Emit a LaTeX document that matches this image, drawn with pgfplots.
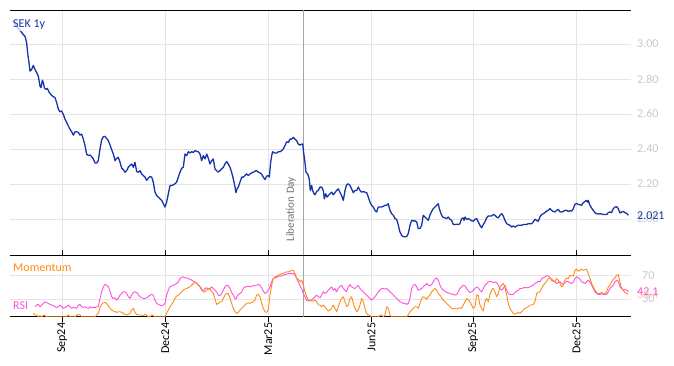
\documentclass[border=0pt]{standalone}
\usepackage{fontspec}
\setmainfont{Carlito}
\usepackage{pgfplots}
\pgfplotsset{compat=1.18}
\definecolor{sekblue}{RGB}{22,52,168}
\definecolor{momorange}{RGB}{255,140,20}
\definecolor{rsimag}{RGB}{255,80,220}
\definecolor{tickgrey}{RGB}{200,200,200}
\definecolor{gridgrey}{RGB}{228,228,228}
\definecolor{libgrey}{RGB}{165,165,165}
\definecolor{libtext}{RGB}{110,110,110}
\definecolor{fadeorange}{RGB}{255,205,160}
\newcommand\lbl{\fontsize{12}{14}\selectfont}

\pgfplotsset{
  panel/.style={
    scale only axis, width=620.7pt, xmin=-46.2, xmax=502.2,
    separate axis lines,
    x axis line style={black,line width=0.9pt},
    y axis line style={draw=none},
    xtick={0,91,182,273.3,363.1,454.4},
    grid=major, major grid style={gridgrey,line width=0.6pt},
    ytick style={draw=none}, yticklabel pos=right,
    yticklabel style={font=\lbl, text=tickgrey, anchor=west, inner sep=0pt, xshift=6.3pt},
    x tick style={black,line width=0.9pt}, major tick length=5pt,
    xtick pos=left,
    clip mode=individual,
    /pgf/number format/assume math mode=true,
  }
}

\pgfplotstableread{
day value
-43.8 3.132
-34.4 3.053
-32.9 3.043
-31.5 3.006
-30.6 2.949
-29.4 2.892
-28.5 2.845
-27.1 2.854
-25.6 2.877
-24.1 2.854
-22.6 2.835
-21.2 2.816
-19.7 2.759
-18.8 2.750
-17.6 2.793
-16.7 2.778
-15.9 2.750
-14.4 2.740
-13.2 2.746
-11.4 2.722
-9.4 2.706
-7.9 2.699
-6.4 2.693
-5.0 2.665
-3.5 2.627
-2.0 2.612
-0.6 2.617
0.9 2.598
2.4 2.570
3.9 2.551
5.3 2.532
6.8 2.513
8.3 2.498
9.8 2.479
11.2 2.498
12.7 2.498
14.2 2.494
15.6 2.479
17.1 2.485
18.6 2.456
20.1 2.418
21.5 2.371
23.0 2.362
24.5 2.365
26.0 2.356
27.4 2.343
28.9 2.320
30.4 2.320
31.8 2.333
33.3 2.400
34.8 2.453
36.3 2.470
37.7 2.472
39.2 2.460
40.7 2.447
42.2 2.422
43.6 2.396
45.1 2.371
46.6 2.333
48.0 2.346
49.5 2.352
51.0 2.324
52.5 2.290
53.9 2.282
55.4 2.267
56.9 2.276
58.3 2.295
59.8 2.305
61.3 2.314
62.8 2.295
64.2 2.324
65.7 2.271
67.2 2.267
68.7 2.276
70.1 2.257
71.6 2.248
73.1 2.239
74.5 2.220
76.0 2.233
77.5 2.242
79.0 2.239
80.4 2.210
81.9 2.153
83.4 2.134
84.9 2.125
86.3 2.115
87.8 2.106
89.3 2.087
90.7 2.068
92.2 2.096
93.7 2.144
95.2 2.191
96.6 2.191
98.1 2.195
99.6 2.201
101.0 2.210
102.5 2.239
104.0 2.267
105.5 2.290
106.9 2.295
108.4 2.371
109.9 2.362
111.4 2.384
112.8 2.377
114.3 2.384
115.8 2.380
117.2 2.390
118.7 2.386
120.2 2.384
121.7 2.371
123.1 2.333
124.6 2.362
126.1 2.343
127.6 2.371
129.0 2.347
130.5 2.314
132.0 2.333
133.4 2.343
134.9 2.286
136.4 2.276
137.8 2.267
139.3 2.276
140.8 2.286
142.3 2.295
143.7 2.314
145.2 2.328
146.7 2.314
148.2 2.295
149.6 2.267
151.1 2.229
152.6 2.182
153.5 2.150
154.3 2.172
155.5 2.182
157.0 2.210
158.5 2.239
159.9 2.239
161.4 2.248
162.9 2.257
164.4 2.248
165.8 2.257
167.3 2.263
168.8 2.267
170.2 2.273
171.7 2.276
173.2 2.267
174.7 2.263
176.1 2.257
177.6 2.239
179.1 2.225
180.5 2.244
182.0 2.248
182.9 2.239
184.1 2.324
185.0 2.362
185.8 2.384
187.3 2.377
189.4 2.377
190.9 2.384
192.3 2.384
193.8 2.390
195.3 2.400
196.7 2.418
198.2 2.441
199.7 2.437
201.2 2.456
202.6 2.456
204.1 2.466
205.6 2.456
207.1 2.447
208.5 2.428
210.0 2.422
211.5 2.428
212.4 2.428
213.2 2.381
214.4 2.324
215.3 2.267
216.8 2.257
218.2 2.229
219.1 2.163
220.3 2.191
221.2 2.163
222.4 2.144
223.3 2.138
224.7 2.157
226.2 2.163
227.7 2.182
229.1 2.182
230.6 2.163
231.5 2.115
232.7 2.144
233.9 2.125
235.0 2.134
236.5 2.144
238.0 2.153
239.4 2.138
240.9 2.150
242.4 2.163
243.9 2.172
245.3 2.153
246.8 2.134
248.3 2.106
249.8 2.163
251.2 2.195
252.7 2.201
254.2 2.191
255.6 2.172
257.1 2.150
258.6 2.163
260.1 2.163
261.5 2.182
263.0 2.163
264.5 2.153
266.0 2.157
267.4 2.153
268.9 2.150
270.4 2.125
271.8 2.096
273.3 2.078
274.8 2.068
276.3 2.049
277.7 2.040
279.2 2.068
280.7 2.068
282.1 2.068
283.6 2.072
285.1 2.078
286.6 2.078
288.0 2.087
289.5 2.049
291.0 2.030
292.5 2.021
293.9 2.002
295.4 1.998
296.9 1.964
298.3 1.926
299.8 1.907
301.3 1.898
302.8 1.898
304.2 1.899
305.7 1.917
307.2 1.964
308.7 1.992
310.1 1.989
311.6 1.989
313.1 1.983
314.5 1.945
316.0 1.945
317.5 1.964
318.9 2.021
320.4 2.011
321.9 2.002
323.4 1.992
324.8 2.021
326.3 2.043
327.8 2.059
329.3 2.068
330.7 2.078
332.2 2.087
333.1 2.059
334.6 2.030
336.0 2.011
338.1 2.006
339.6 2.002
341.0 2.011
342.5 1.998
344.0 1.992
345.5 1.968
346.9 1.968
348.4 1.970
349.9 1.968
351.3 1.973
352.8 2.002
354.3 2.006
354.9 1.992
355.8 2.011
357.2 1.998
358.7 2.002
360.2 1.996
361.6 1.990
363.1 1.987
364.6 1.998
366.1 2.002
367.5 1.983
369.0 1.964
370.5 1.949
372.0 1.968
373.4 1.983
374.9 2.006
376.4 2.017
377.8 2.017
379.3 2.017
380.8 2.025
382.3 2.021
383.7 2.011
385.2 2.006
386.7 2.021
388.2 2.030
389.6 2.017
391.1 1.992
392.6 1.973
394.0 1.968
395.5 1.964
397.0 1.954
398.5 1.960
399.9 1.953
401.4 1.960
402.9 1.964
404.4 1.964
405.8 1.964
407.3 1.968
408.8 1.968
410.2 1.968
411.7 1.973
413.2 1.973
414.7 1.973
416.1 1.983
417.6 1.998
419.1 1.992
420.5 1.987
422.0 2.011
423.5 2.025
425.0 2.030
426.4 2.036
427.9 2.045
429.4 2.049
430.9 2.059
432.3 2.049
433.8 2.043
435.3 2.040
436.7 2.049
438.2 2.055
439.7 2.040
441.2 2.040
442.6 2.043
444.1 2.049
445.6 2.049
447.1 2.043
448.5 2.047
450.0 2.045
451.5 2.059
452.9 2.083
454.4 2.089
455.9 2.083
457.4 2.081
458.8 2.078
460.3 2.093
461.8 2.100
463.2 2.106
464.1 2.096
464.7 2.106
466.2 2.078
467.7 2.062
469.1 2.049
470.6 2.036
472.1 2.030
473.6 2.028
475.0 2.030
476.5 2.028
478.0 2.026
479.4 2.026
480.9 2.025
482.4 2.036
483.9 2.040
485.3 2.036
486.8 2.059
488.3 2.068
489.8 2.070
491.2 2.059
492.7 2.034
494.2 2.040
495.6 2.043
497.1 2.036
498.6 2.032
500.1 2.021
}\sektable

\pgfplotstableread{
day value
-24.1 17.0
-22.6 19.9
-21.2 21.0
-19.7 17.0
-18.2 19.9
-16.7 22.7
-15.3 25.5
-13.8 23.8
-12.3 22.7
-10.9 21.0
-9.4 19.9
-7.9 18.7
-6.4 17.0
-5.0 15.9
-3.5 17.0
-2.0 19.9
-0.6 17.0
0.9 14.2
2.4 15.9
3.9 17.0
5.3 19.9
6.8 17.0
8.3 14.2
9.8 15.9
11.2 15.3
12.7 14.2
14.2 19.9
15.6 21.0
17.1 17.0
18.6 15.9
20.1 17.0
21.5 15.3
23.0 14.2
24.5 17.0
26.0 15.3
27.4 15.9
28.9 15.3
30.4 17.0
31.8 17.0
33.3 31.1
34.8 42.4
36.3 50.9
37.7 54.9
39.2 53.7
40.7 50.9
42.2 43.6
43.6 34.0
45.1 31.1
46.6 32.3
48.0 28.3
49.5 31.1
51.0 36.8
52.5 39.6
53.9 42.4
55.4 42.4
56.9 39.6
58.3 34.0
59.8 31.1
61.3 36.8
62.8 41.3
64.2 42.4
65.7 41.3
67.2 37.9
68.7 34.0
70.1 32.3
71.6 31.1
73.1 31.1
74.5 32.3
76.0 34.0
77.5 36.8
79.0 37.9
80.4 36.8
81.9 28.3
83.4 22.7
84.9 21.0
86.3 19.9
87.8 18.7
89.3 19.9
90.7 22.7
92.2 36.8
93.7 45.3
95.2 50.9
96.6 52.6
98.1 53.7
99.6 54.9
101.0 56.6
102.5 59.4
104.0 65.0
105.5 67.3
106.9 67.9
108.4 66.2
109.9 66.2
111.4 65.0
112.8 63.9
114.3 62.2
115.8 60.5
117.2 59.4
118.7 56.6
120.2 53.7
121.7 50.9
123.1 45.3
124.6 43.6
126.1 48.1
127.6 49.2
129.0 47.0
130.5 48.1
132.0 50.9
133.4 48.1
134.9 45.0
136.4 42.4
137.8 36.8
139.3 35.7
140.8 39.6
142.3 45.3
143.7 50.9
145.2 53.7
146.7 52.6
148.2 48.1
149.6 41.3
151.1 36.8
152.6 31.1
153.5 30.0
154.3 34.0
155.5 37.9
157.0 39.6
158.5 42.4
159.9 48.1
161.4 50.9
162.9 50.9
164.4 52.1
165.8 50.9
167.3 52.1
168.8 52.6
170.2 53.7
171.7 53.7
173.2 54.9
174.7 53.7
176.1 49.2
177.6 43.6
179.1 39.6
180.5 41.3
182.0 45.3
183.5 50.9
185.0 59.4
186.4 65.0
187.9 66.7
189.4 66.7
190.9 69.0
192.3 69.0
193.8 69.6
195.3 70.7
196.7 71.8
198.2 72.4
199.7 73.5
201.2 73.5
202.6 73.5
204.1 73.5
205.6 70.7
207.1 65.0
208.5 59.4
210.0 52.6
211.5 48.1
213.0 39.6
214.4 34.0
215.9 28.3
217.4 26.6
218.8 28.3
220.3 28.3
221.8 31.1
223.3 34.0
224.7 36.8
226.2 34.0
227.7 32.3
229.1 36.8
230.6 42.4
232.1 39.6
233.6 41.3
235.0 45.3
236.5 48.1
238.0 50.9
239.4 45.3
240.9 48.1
242.4 42.4
243.9 48.1
245.3 50.9
246.8 53.7
248.3 48.1
249.8 45.3
251.2 42.4
252.7 50.9
254.2 54.9
255.6 50.9
257.1 49.2
258.6 48.1
260.1 50.9
261.5 53.7
263.0 48.1
264.5 45.3
266.0 42.4
267.4 39.6
268.9 36.8
270.4 34.0
271.8 31.1
273.3 28.3
274.8 31.1
276.3 34.0
277.7 37.9
279.2 42.4
280.7 45.3
282.1 48.1
283.6 48.1
285.1 47.0
286.6 48.1
288.0 45.3
289.5 42.4
291.0 39.6
292.5 36.8
293.9 34.0
295.4 31.1
296.9 28.3
298.3 25.5
299.8 24.4
301.3 22.7
302.8 22.7
304.2 21.0
305.7 22.7
307.2 31.1
308.7 48.1
310.1 53.7
311.6 54.9
313.1 50.9
314.5 45.3
317.5 48.1
318.9 50.9
320.4 53.7
321.9 56.6
323.4 53.7
324.8 52.6
326.3 54.9
327.8 59.4
329.3 63.9
330.7 66.2
332.2 62.2
333.7 53.7
335.1 48.1
336.6 45.3
338.1 43.6
339.6 41.3
341.0 40.8
342.5 39.6
344.0 38.5
345.5 37.9
346.9 36.8
348.4 37.9
349.9 42.4
351.3 48.1
352.8 50.9
354.3 53.7
355.8 52.6
357.2 48.1
358.7 43.6
360.2 41.3
361.6 42.4
363.1 45.3
364.6 48.1
366.1 50.9
367.5 49.2
369.0 45.3
370.5 42.4
372.0 48.1
373.4 53.7
374.9 56.6
376.4 59.4
377.8 60.5
379.3 59.4
380.8 58.3
382.3 59.4
383.7 58.3
385.2 53.7
386.7 48.1
388.2 45.3
389.6 48.1
391.1 53.7
392.6 45.3
394.0 39.6
395.5 37.9
397.0 37.9
398.5 37.9
399.9 41.3
401.4 43.6
402.9 45.3
404.4 48.1
405.8 48.1
407.3 49.2
408.8 49.8
410.2 49.2
411.7 49.8
413.2 50.9
414.7 52.6
416.1 53.7
417.6 56.6
419.1 58.3
420.5 60.5
422.0 59.4
423.5 65.0
425.0 66.2
426.4 67.9
427.9 69.6
429.4 69.6
430.9 66.2
432.3 62.2
433.8 60.5
435.3 59.4
436.7 56.6
438.2 58.3
439.7 59.4
441.2 56.6
442.6 54.9
444.1 58.3
445.6 60.5
447.1 59.4
448.5 58.3
450.0 56.6
451.5 59.4
452.9 65.0
454.4 67.9
455.9 66.2
457.4 63.9
458.8 59.4
460.3 58.3
461.8 56.6
463.2 59.4
464.7 62.2
466.2 59.4
467.7 53.7
469.1 48.1
470.6 42.4
472.1 39.6
473.6 37.9
475.0 37.9
476.5 39.6
478.0 37.9
479.4 37.9
480.9 37.9
482.4 42.4
483.9 48.1
485.3 50.9
486.8 53.7
488.3 59.4
489.8 62.2
491.2 60.5
492.7 50.9
494.2 48.1
495.6 45.3
497.1 46.4
498.6 45.3
500.1 42.1
}\rsitable

\pgfplotstableread{
day value
-25.6 5.7
-24.1 2.9
-22.6 2.9
-21.2 0
-19.7 1.8
-18.2 0
-16.7 2.9
-15.3 1.8
-13.8 0
3.9 0
5.3 2.9
6.8 0
11.2 0
12.7 2.9
14.2 4.0
15.6 2.9
17.1 0
28.9 0
30.4 2.9
31.8 5.7
33.3 15.3
34.8 21.0
36.3 23.8
37.7 24.4
39.2 22.7
40.7 18.7
42.2 14.2
43.6 11.4
45.1 9.7
46.6 8.5
48.0 7.4
49.5 8.5
51.0 8.5
52.5 7.4
53.9 5.7
55.4 4.0
56.9 2.9
58.3 4.0
59.8 5.7
61.3 11.4
62.8 14.2
64.2 7.4
65.7 4.0
67.2 2.9
70.1 2.9
71.6 1.8
73.1 4.0
74.5 2.9
76.0 0
77.5 0
79.0 2.9
80.4 1.8
81.9 0
90.7 0
92.2 5.7
93.7 11.4
95.2 17.0
96.6 21.0
98.1 25.5
99.6 31.1
101.0 35.1
102.5 36.8
104.0 39.6
105.5 42.4
106.9 45.3
108.4 47.0
109.9 48.1
111.4 49.8
112.8 50.9
114.3 53.7
115.8 56.6
117.2 58.3
118.7 57.7
120.2 53.7
121.7 50.9
123.1 48.1
124.6 42.4
126.1 42.4
127.6 45.3
129.0 48.1
130.5 46.4
132.0 43.6
133.4 40.0
134.9 30.0
136.4 21.0
137.8 22.7
139.3 25.5
140.8 25.5
142.3 31.1
143.7 36.8
145.2 39.6
146.7 39.6
148.2 31.1
149.6 22.7
151.1 14.2
152.6 8.5
154.0 5.7
155.5 7.4
157.0 11.4
158.5 14.2
159.9 17.0
161.4 19.9
162.9 22.7
164.4 23.8
165.8 22.7
167.3 24.4
168.8 25.5
170.2 28.3
171.7 36.8
173.2 37.9
174.7 34.0
176.1 22.7
177.6 14.2
179.1 8.5
180.5 7.4
182.0 11.4
183.5 36.8
185.0 53.7
186.4 65.0
187.9 67.9
189.4 69.0
190.9 70.7
192.3 71.8
193.8 73.5
195.3 73.5
196.7 75.2
198.2 76.4
199.7 76.4
201.2 77.5
202.6 79.2
204.1 79.2
205.6 73.5
207.1 65.0
208.5 63.9
210.0 59.4
211.5 62.2
213.0 53.7
214.4 42.4
215.9 34.0
217.4 28.3
218.8 26.6
220.3 27.2
221.8 26.6
223.3 28.3
224.7 25.5
226.2 19.9
227.7 19.9
229.1 17.0
230.6 19.9
232.1 17.0
233.6 13.1
235.0 9.7
236.5 11.4
238.0 14.2
239.4 19.9
240.9 14.2
242.4 8.5
243.9 17.0
245.3 25.5
246.8 31.1
248.3 34.0
249.8 25.5
251.2 17.0
252.7 19.9
254.2 31.1
255.6 34.0
257.1 22.7
258.6 14.2
260.1 8.5
261.5 11.4
263.0 19.9
264.5 31.1
266.0 25.5
267.4 14.2
268.9 5.7
270.4 2.9
271.8 1.8
273.3 0
279.2 0
280.7 1.8
282.1 2.9
283.6 0
285.1 2.9
286.6 17.0
288.0 14.2
289.5 2.9
291.0 0
304.2 0
305.7 2.9
307.2 8.5
308.7 11.4
310.1 14.2
311.6 17.0
313.1 17.0
314.5 14.2
316.0 22.7
317.5 31.1
318.9 34.0
320.4 32.3
321.9 30.0
323.4 34.0
324.8 36.8
326.3 42.4
327.8 45.3
329.3 48.1
330.7 45.3
332.2 39.6
333.7 36.8
335.1 32.3
336.6 28.3
338.1 25.5
339.6 22.7
341.0 19.9
342.5 17.0
344.0 14.2
345.5 13.1
346.9 14.2
348.4 13.1
349.9 14.2
351.3 15.3
352.8 14.2
354.3 19.9
355.8 25.5
357.2 31.1
358.7 28.3
360.2 25.5
361.6 19.9
363.1 14.2
364.6 17.0
366.1 36.8
367.5 36.8
369.0 19.9
370.5 14.2
372.0 9.7
373.4 25.5
374.9 31.1
376.4 25.5
377.8 36.8
379.3 45.3
380.8 48.1
382.3 42.4
383.7 34.0
385.2 39.6
386.7 50.9
388.2 53.7
389.6 56.6
391.1 50.9
392.6 36.8
394.0 22.7
395.5 14.2
397.0 9.7
398.5 5.7
399.9 4.0
401.4 5.7
402.9 7.4
404.4 5.7
405.8 8.5
407.3 11.4
408.8 14.2
410.2 15.3
411.7 17.0
413.2 19.9
414.7 19.9
416.1 21.0
417.6 25.5
419.1 39.6
420.5 41.3
422.0 42.4
423.5 48.1
425.0 53.7
426.4 56.6
427.9 60.5
429.4 65.0
430.9 66.2
432.3 63.9
433.8 62.2
435.3 59.4
436.7 65.0
438.2 62.2
439.7 56.6
441.2 50.9
442.6 53.7
444.1 62.2
445.6 66.2
447.1 65.0
448.5 70.7
450.0 69.6
451.5 69.6
452.9 79.2
454.4 80.9
455.9 77.5
457.4 79.2
458.8 80.9
460.3 79.2
461.8 80.3
463.2 80.9
464.7 73.5
466.2 65.0
467.7 56.6
469.1 50.9
470.6 45.3
472.1 41.3
473.6 39.6
475.0 39.6
476.5 41.3
478.0 39.6
479.4 39.6
480.9 42.4
482.4 50.9
483.9 53.7
485.3 59.4
486.8 63.9
488.3 66.2
489.8 70.7
491.2 71.8
492.7 59.4
494.2 48.1
495.6 45.3
497.1 41.3
498.6 39.6
500.1 38.4
}\momtable

\begin{document}
\begin{tikzpicture}
\useasboundingbox (0,0) rectangle (674pt,-366pt);

\begin{axis}[panel, at={(10pt,-10pt)}, anchor=north west, height=245pt,
  ymin=1.794, ymax=3.194, ytick={2,2.2,2.4,2.6,2.8,3},
  y tick label style={/pgf/number format/.cd, fixed, fixed zerofill, precision=2, /tikz/.cd},
  tick align=inside, xticklabels={,,,,,}]
  \draw[libgrey, line width=0.7pt] (axis cs:213,1.794) -- (axis cs:213,3.194);
  \addplot[sekblue, line width=1.3pt, line join=round] table[x=day, y=value] {\sektable};
  \node[rotate=90, anchor=base west, inner sep=0pt, font=\fontsize{11}{13}\selectfont, text=libtext] at (axis cs:204.7,1.871) {Liberation Day};
  \node[anchor=west, inner sep=1pt, fill=white, fill opacity=0.7, text opacity=1, text=sekblue, font=\lbl] at (rel axis cs:0.0032,0.939) {SEK 1y};
  \node[anchor=west, inner sep=0pt, xshift=6.3pt, text=sekblue, font=\lbl] at (axis cs:502.2,2.021) {2.021};
\end{axis}

\begin{axis}[panel, at={(10pt,-255.7pt)}, anchor=north west, height=61pt,
  ymin=0, ymax=104, ytick={30,70},
  tick align=outside, xticklabels={Sep24,Dec24,Mar25,Jun25,Sep25,Dec25},
  xticklabel style={rotate=90, anchor=east, font=\lbl, text=black, inner sep=1pt}]
  \draw[libgrey, line width=0.7pt] (axis cs:213,0) -- (axis cs:213,104);
  \addplot[rsimag, line width=0.9pt, line join=round] table[x=day, y=value] {\rsitable};
  \addplot[momorange, line width=0.9pt, line join=round] table[x=day, y=value] {\momtable};
  \node[anchor=west, inner sep=1pt, fill=white, fill opacity=0.7, text opacity=1, text=momorange, font=\lbl] at (rel axis cs:0.0032,0.798) {Momentum};
  \node[anchor=west, inner sep=1pt, fill=white, fill opacity=0.7, text opacity=1, text=rsimag, font=\lbl] at (rel axis cs:0.0032,0.175) {RSI};
  \node[anchor=west, inner sep=0pt, xshift=6.3pt, text=fadeorange, font=\lbl] at (axis cs:502.2,38.4) {38.4};
  \node[anchor=west, inner sep=0pt, xshift=6.3pt, text=rsimag, font=\lbl] at (axis cs:502.2,42.1) {42.1};
\end{axis}
\end{tikzpicture}
\end{document}
